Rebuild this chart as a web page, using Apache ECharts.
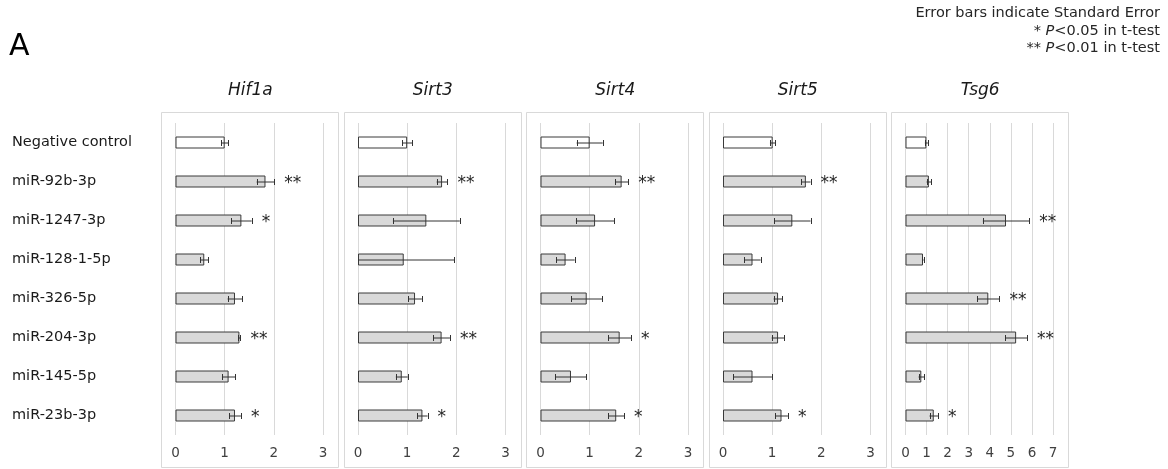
<!DOCTYPE html>
<html>
<head>
<meta charset="utf-8">
<script src="https://cdn.jsdelivr.net/npm/echarts@6/dist/echarts.min.js"></script>
<style>
html,body{margin:0;padding:0;background:#fff;}
#chart{width:1168px;height:469px;}
</style>
</head>
<body>
<div id="chart"></div>
<script>
// ---- data ----
const categories = ['Negative control','miR-92b-3p','miR-1247-3p','miR-128-1-5p','miR-326-5p','miR-204-3p','miR-145-5p','miR-23b-3p'];
const genes = ['Hif1a','Sirt3','Sirt4','Sirt5','Tsg6'];
const xMaxes = [3,3,3,3,7];

const hif1aMean = [1.00,1.83,1.34,0.585,1.21,1.30,1.08,1.21];
const hif1aSE   = [0.07,0.18,0.21,0.08,0.15,0.02,0.135,0.12];
const hif1aSig  = ['','**','*','','','**','','*'];

const sirt3Mean = [1.00,1.71,1.39,0.93,1.16,1.70,0.89,1.31];
const sirt3SE   = [0.10,0.11,0.68,1.03,0.14,0.17,0.12,0.105];
const sirt3Sig  = ['','**','','','','**','','*'];

const sirt4Mean = [1.00,1.65,1.11,0.51,0.94,1.61,0.62,1.54];
const sirt4SE   = [0.265,0.135,0.39,0.185,0.31,0.23,0.315,0.16];
const sirt4Sig  = ['','**','','','','*','','*'];

const sirt5Mean = [1.01,1.685,1.41,0.60,1.12,1.12,0.60,1.19];
const sirt5SE   = [0.055,0.095,0.37,0.165,0.09,0.13,0.395,0.13];
const sirt5Sig  = ['','**','','','','','','*'];

const tsg6Mean = [0.99,1.11,4.77,0.83,3.93,5.25,0.75,1.34];
const tsg6SE   = [0.07,0.11,1.10,0.03,0.53,0.52,0.13,0.20];
const tsg6Sig  = ['','','**','','**','**','','*'];

const means = [hif1aMean, sirt3Mean, sirt4Mean, sirt5Mean, tsg6Mean];
const ses   = [hif1aSE, sirt3SE, sirt4SE, sirt5SE, tsg6SE];
const sigs  = [hif1aSig, sirt3Sig, sirt4Sig, sirt5Sig, tsg6Sig];

// ---- layout ----
const FONT = 'DejaVu Sans';
const panelLeft0 = 161, panelStep = 182.5, panelW = 177, panelTop = 112, panelH = 355;
const plotOffset = 14.5, plotW = 147.5, plotTop = 123, plotH = 312;

const chart = echarts.init(document.getElementById('chart'));

const grids = [], xAxes = [], yAxes = [], series = [], titles = [], graphics = [];

titles.push({
  text: 'A', left: 4, top: 27,
  textStyle: {fontFamily: FONT, fontSize: 30, fontWeight: 'normal', color: '#000'}
});

genes.forEach((g, i) => {
  const pl = panelLeft0 + i * panelStep;
  const gl = pl + plotOffset;
  graphics.push({
    type: 'rect', z: -1,
    shape: {x: Math.round(pl) + 0.5, y: panelTop + 0.5, width: panelW, height: panelH},
    style: {fill: 'none', stroke: '#d9d9d9', lineWidth: 1}
  });
  titles.push({
    text: g, left: gl + plotW / 2 - 4, top: 77, textAlign: 'center',
    textStyle: {fontFamily: FONT, fontSize: 17, fontStyle: 'italic', fontWeight: 'normal', color: '#1a1a1a'}
  });
  grids.push({left: gl, top: plotTop, width: plotW, height: plotH, containLabel: false});
  xAxes.push({
    type: 'value', gridIndex: i, min: 0, max: xMaxes[i], interval: 1,
    axisLine: {show: false}, axisTick: {show: false},
    splitLine: {show: true, lineStyle: {color: '#d9d9d9', width: 1}},
    axisLabel: {fontFamily: FONT, fontSize: 13.5, color: '#404040', margin: 11}
  });
  yAxes.push({
    type: 'category', gridIndex: i, data: categories, inverse: true,
    axisLine: {show: false}, axisTick: {show: false}, splitLine: {show: false},
    axisLabel: i === 0 ? {show: true, align: 'left', margin: gl - 12, fontFamily: FONT, fontSize: 14.5, color: '#1a1a1a'} : {show: false}
  });
  const m = means[i], se = ses[i], sg = sigs[i];
  series.push({
    type: 'bar', xAxisIndex: i, yAxisIndex: i, barWidth: 12,
    data: m.map((v, k) => ({
      value: v,
      itemStyle: {color: k === 0 ? '#ffffff' : '#d9d9d9', borderColor: '#3a3a3a', borderWidth: 1}
    })),
    silent: true, animation: false
  });
  series.push({
    type: 'custom', xAxisIndex: i, yAxisIndex: i, z: 5, animation: false, silent: true,
    data: m.map((v, k) => [v, k]),
    encode: {x: 0, y: 1},
    renderItem: function (params, api) {
      const k = params.dataIndex;
      const v = m[k], e = se[k];
      const y = api.coord([0, k])[1];
      const loV = v - e, hiV = v + e;
      const lo = api.coord([Math.max(0, loV), k])[0];
      const hi = api.coord([hiV, k])[0];
      const c = 2.5;
      const children = [
        {type: 'line', shape: {x1: lo, y1: y + 0.5, x2: hi, y2: y + 0.5}, style: {stroke: '#333333', lineWidth: 1}},
        {type: 'line', shape: {x1: Math.round(hi) + 0.5, y1: y - c, x2: Math.round(hi) + 0.5, y2: y + c + 1}, style: {stroke: '#333333', lineWidth: 1}}
      ];
      if (loV >= 0) {
        children.push({type: 'line', shape: {x1: Math.round(lo) + 0.5, y1: y - c, x2: Math.round(lo) + 0.5, y2: y + c + 1}, style: {stroke: '#333333', lineWidth: 1}});
      }
      if (sg[k]) {
        children.push({type: 'text', style: {text: sg[k], x: hi + 10, y: y + 2.5, align: 'left', verticalAlign: 'middle', fontFamily: FONT, fontSize: 17, fill: '#262626'}});
      }
      return {type: 'group', children: children};
    }
  });
});

// legend notes (top right)
const noteX = 1160;
const NOTE_FS = 14.5;
const noteRich = {
  n: {fontFamily: FONT, fontSize: NOTE_FS, fill: '#262626', color: '#262626'},
  i: {fontFamily: FONT, fontSize: NOTE_FS, fontStyle: 'italic', fill: '#262626', color: '#262626'}
};
graphics.push({type: 'text', style: {text: 'Error bars indicate Standard Error', x: noteX, y: 13, align: 'right', verticalAlign: 'middle', fontFamily: FONT, fontSize: NOTE_FS, fill: '#262626'}});
graphics.push({type: 'text', style: {text: '{n|* }{i|P}{n|<0.05 in t-test}', rich: noteRich, x: noteX, y: 31, align: 'right', verticalAlign: 'middle'}});
graphics.push({type: 'text', style: {text: '{n|** }{i|P}{n|<0.01 in t-test}', rich: noteRich, x: noteX, y: 48.5, align: 'right', verticalAlign: 'middle'}});

chart.setOption({
  animation: false,
  backgroundColor: '#ffffff',
  title: titles,
  grid: grids,
  xAxis: xAxes,
  yAxis: yAxes,
  series: series,
  graphic: graphics
});
</script>
</body>
</html>
